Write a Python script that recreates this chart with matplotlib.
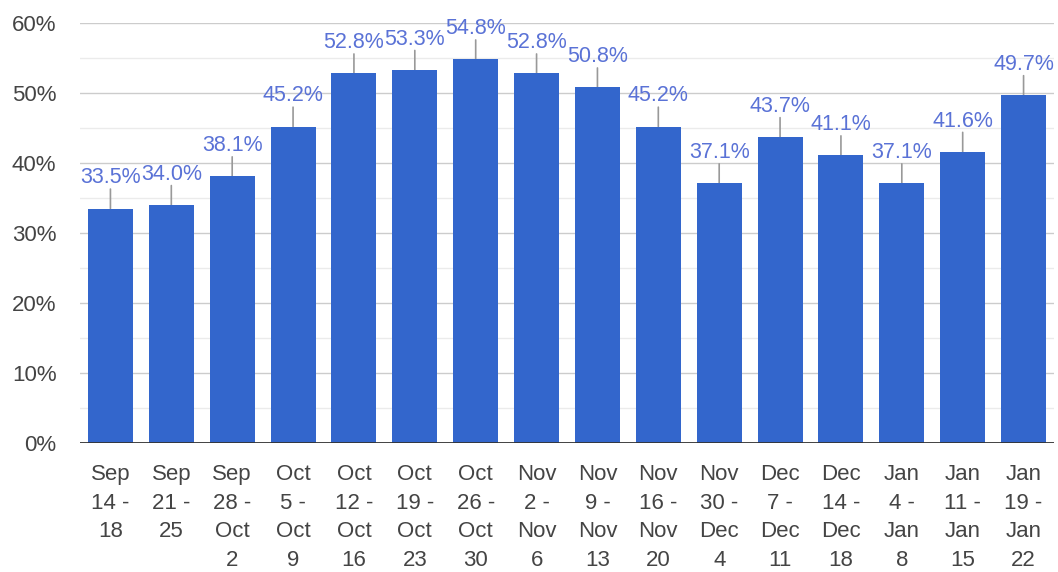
import matplotlib
matplotlib.use("Agg")
import matplotlib.pyplot as plt
import numpy as np

categories = [
    "Sep\n14 -\n18", "Sep\n21 -\n25", "Sep\n28 -\nOct\n2", "Oct\n5 -\nOct\n9",
    "Oct\n12 -\nOct\n16", "Oct\n19 -\nOct\n23", "Oct\n26 -\nOct\n30", "Nov\n2 -\nNov\n6",
    "Nov\n9 -\nNov\n13", "Nov\n16 -\nNov\n20", "Nov\n30 -\nDec\n4", "Dec\n7 -\nDec\n11",
    "Dec\n14 -\nDec\n18", "Jan\n4 -\nJan\n8", "Jan\n11 -\nJan\n15", "Jan\n19 -\nJan\n22",
]
values = [33.5, 34.0, 38.1, 45.2, 52.8, 53.3, 54.8, 52.8, 50.8, 45.2, 37.1, 43.7, 41.1, 37.1, 41.6, 49.7]
yticks = [0, 10, 20, 30, 40, 50, 60]

plt.rcParams['font.family'] = ['Liberation Sans', 'DejaVu Sans']

W, H = 1058, 572
fig = plt.figure(figsize=(W / 100, H / 100), dpi=100)
ax = fig.add_axes([80 / W, 1 - 443 / H, (1054 - 80) / W, (443 - 23) / H])

x = np.arange(len(values))
ax.bar(x, values, width=0.74, color="#3366cc", zorder=3)

ax.set_xlim(-0.5, len(values) - 0.5)
ax.set_ylim(0, 60)

# gridlines
for v in np.arange(5, 60, 10):
    ax.axhline(v, color="#ebebeb", lw=1, zorder=1)
for v in yticks[1:]:
    ax.axhline(v, color="#cccccc", lw=1, zorder=1)
ax.axhline(0, color="#333333", lw=1.3, zorder=4)

# annotation stems and labels
for xi, v in zip(x, values):
    ax.annotate("", xy=(xi, v), xytext=(0, 14), textcoords="offset points",
                arrowprops=dict(arrowstyle="-", color="#999999", lw=1.2,
                                shrinkA=0, shrinkB=0), zorder=2)
    ax.annotate(f"{v:.1f}%", xy=(xi, v), xytext=(0, 14.5), textcoords="offset points",
                ha="center", va="bottom", fontsize=15.5, color="#5a72d6", zorder=5)

ax.set_yticks(yticks)
ax.set_yticklabels([f"{t}%" for t in yticks])
ax.set_xticks(x)
ax.set_xticklabels(categories, linespacing=1.48)
ax.tick_params(axis="y", length=0, pad=17, labelsize=16, labelcolor="#444444")
ax.tick_params(axis="x", length=0, pad=15, labelsize=16, labelcolor="#444444")
for s in ax.spines.values():
    s.set_visible(False)

fig.savefig("out.png", dpi=100, facecolor="white")
